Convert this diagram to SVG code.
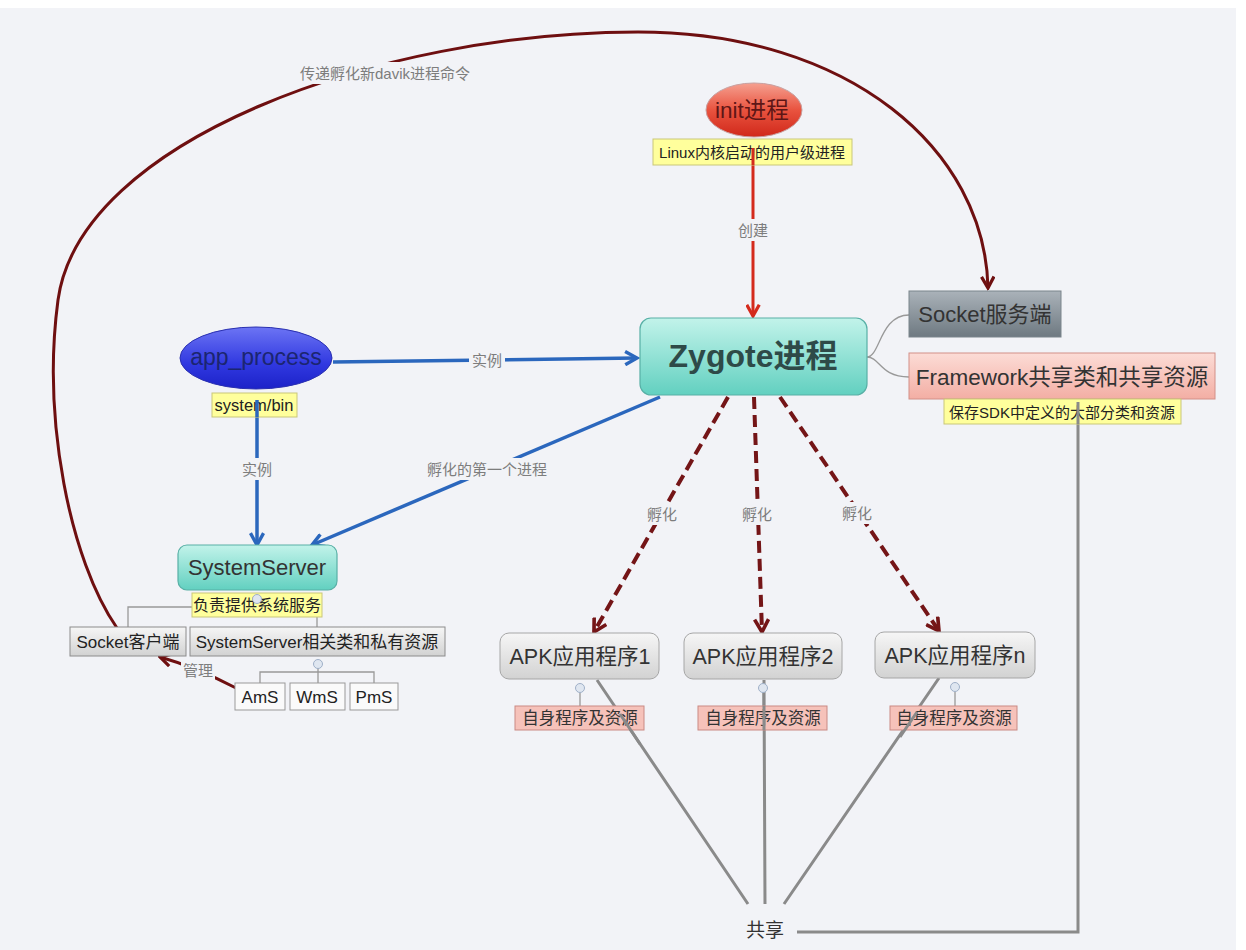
<svg xmlns="http://www.w3.org/2000/svg" width="1246" height="950" viewBox="0 0 1246 950">
<style>
text{font-family:"Liberation Sans","Noto Sans CJK SC",sans-serif;text-anchor:middle;dominant-baseline:central}
.lbl{font-size:15px;fill:#7d7d7d}
.note{font-size:15px;fill:#222}
.yel{fill:#ffff9c;stroke:#c9c77a;stroke-width:1}
.pink{fill:#f6c2ba;stroke:#c98a84;stroke-width:1}
.box{font-size:22px;fill:#333}
.sm{font-size:17px;fill:#222}
.tree{fill:none;stroke:#999;stroke-width:1.3}
.dr{fill:none;stroke:#6e0f10;stroke-width:3}
.dash{fill:none;stroke:#741517;stroke-width:4;stroke-dasharray:12 6}
.blue{fill:none;stroke:#2b67bd;stroke-width:3.5}
.gray{fill:none;stroke:#8a8a8a;stroke-width:3}
.knob{fill:#dfe6f0;stroke:#9fb0c8;stroke-width:1}
</style>
<defs>
<linearGradient id="gRed" x1="0" y1="0" x2="0" y2="1"><stop offset="0" stop-color="#f5a090"/><stop offset="0.5" stop-color="#e9533f"/><stop offset="1" stop-color="#d0281a"/></linearGradient>
<linearGradient id="gBlue" x1="0" y1="0" x2="0" y2="1"><stop offset="0" stop-color="#6c74f4"/><stop offset="0.6" stop-color="#3038e0"/><stop offset="1" stop-color="#1c22c8"/></linearGradient>
<linearGradient id="gTeal" x1="0" y1="0" x2="0" y2="1"><stop offset="0" stop-color="#c2f3ea"/><stop offset="1" stop-color="#62d0c0"/></linearGradient>
<linearGradient id="gSlate" x1="0" y1="0" x2="0" y2="1"><stop offset="0" stop-color="#aab2b9"/><stop offset="1" stop-color="#6e7981"/></linearGradient>
<linearGradient id="gPink" x1="0" y1="0" x2="0" y2="1"><stop offset="0" stop-color="#fcdcd6"/><stop offset="1" stop-color="#f3aea4"/></linearGradient>
<linearGradient id="gGray" x1="0" y1="0" x2="0" y2="1"><stop offset="0" stop-color="#f6f6f6"/><stop offset="1" stop-color="#d2d2d2"/></linearGradient>
<marker id="aDR" viewBox="0 0 12 12" refX="10" refY="6" markerWidth="5" markerHeight="5" orient="auto" markerUnits="strokeWidth"><path d="M1,1 L10,6 L1,11" fill="none" stroke="#6e0f10" stroke-width="2.6"/></marker>
<marker id="aDash" viewBox="0 0 12 12" refX="10" refY="6" markerWidth="4.2" markerHeight="4.2" orient="auto" markerUnits="strokeWidth"><path d="M1,1 L10,6 L1,11" fill="none" stroke="#741517" stroke-width="2.6"/></marker>
<marker id="aRed" viewBox="0 0 12 12" refX="10" refY="6" markerWidth="5" markerHeight="5" orient="auto" markerUnits="strokeWidth"><path d="M1,1 L10,6 L1,11" fill="none" stroke="#d42a1c" stroke-width="2.6"/></marker>
<marker id="aBlue" viewBox="0 0 12 12" refX="10" refY="6" markerWidth="4.5" markerHeight="4.5" orient="auto" markerUnits="strokeWidth"><path d="M1,1 L10,6 L1,11" fill="none" stroke="#2b67bd" stroke-width="2.6"/></marker>
<marker id="aGray" viewBox="0 0 12 12" refX="10" refY="6" markerWidth="5" markerHeight="5" orient="auto" markerUnits="strokeWidth"><path d="M1,1 L10,6 L1,11" fill="none" stroke="#8a8a8a" stroke-width="2.6"/></marker>
</defs>
<rect x="0" y="0" width="1246" height="950" fill="#ffffff"/>
<rect x="0" y="8" width="1236" height="942" fill="#f2f3f7"/>

<g id="connectors">
<path class="dr" d="M117,628 C70,560 42,420 58,300 C80,140 380,32 638,32 C850,32 985,150 988,288" marker-end="url(#aDR)"/>
<rect x="292" y="62" width="188" height="22" fill="#f2f3f7"/>
<text class="lbl" x="385" y="73">传递孵化新davik进程命令</text>

<path d="M753,165 L753,316" fill="none" stroke="#d42a1c" stroke-width="3" marker-end="url(#aRed)"/>
<rect x="736" y="219" width="34" height="22" fill="#f2f3f7"/>
<text class="lbl" x="753" y="230">创建</text>

<path class="tree" d="M867,357 C880,357 880,315 909,315 M867,357 C880,357 880,377 909,377"/>

<path class="blue" d="M333,362 L637,358" marker-end="url(#aBlue)"/>
<rect x="469" y="349" width="36" height="22" fill="#f2f3f7"/>
<text class="lbl" x="487" y="360">实例</text>
<path class="blue" d="M257,397 L257,545" marker-end="url(#aBlue)"/>
<rect x="240" y="458" width="34" height="22" fill="#f2f3f7"/>
<text class="lbl" x="257" y="469">实例</text>
<path class="blue" d="M660,397 L312,545" marker-end="url(#aBlue)"/>
<rect x="424" y="458" width="126" height="22" fill="#f2f3f7"/>
<text class="lbl" x="487" y="469">孵化的第一个进程</text>

<path class="dash" d="M728,397 L594,632" marker-end="url(#aDash)"/>
<path class="dash" d="M754,397 L762,632" marker-end="url(#aDash)"/>
<path class="dash" d="M780,397 L939,631" marker-end="url(#aDash)"/>
<rect x="645" y="503" width="34" height="22" fill="#f2f3f7"/>
<text class="lbl" x="662" y="514">孵化</text>
<rect x="740" y="503" width="34" height="22" fill="#f2f3f7"/>
<text class="lbl" x="757" y="514">孵化</text>
<rect x="840" y="502" width="34" height="22" fill="#f2f3f7"/>
<text class="lbl" x="857" y="513">孵化</text>

<path class="tree" d="M128,627 L128,607 L317,607 L317,627"/>
<path class="tree" d="M318,668 L318,672 M260,683 L260,672 L374,672 L374,683 M318,672 L318,683"/>
<path class="tree" d="M580,693 L580,706 M763,693 L763,706 M955,692 L955,706"/>

<path class="dr" d="M236,688 C205,672 185,664 160,657" marker-end="url(#aDR)"/>
<rect x="181" y="659" width="34" height="22" fill="#f2f3f7"/>
<text class="lbl" x="198" y="670">管理</text>

<path class="gray" d="M597,680 L748,904 M764,680 L765,904 M939,678 L784,904"/>
<path class="gray" d="M797,932 L1078,932 L1078,402" marker-end="url(#aGray)"/>
</g>

<g id="init">
<ellipse cx="754" cy="110" rx="48" ry="27" fill="url(#gRed)" stroke="#c8a0a0" stroke-width="1"/>
<text x="752" y="110" font-size="22.5" fill="#5e1616">init进程</text>
</g>
<g id="linux-note">
<rect class="yel" x="653" y="139" width="199" height="26"/>
<text class="note" x="752" y="152">Linux内核启动的用户级进程</text>
</g>
<path d="M753,148 L753,165" stroke="#d42a1c" stroke-width="3"/>

<g id="zygote">
<rect x="640" y="318" width="227" height="77" rx="11" fill="url(#gTeal)" stroke="#58b0a6" stroke-width="1.2"/>
<text x="753" y="356" font-size="32" font-weight="bold" fill="#2e4a48">Zygote进程</text>
</g>

<g id="socket-server">
<rect x="909" y="291" width="152" height="46" fill="url(#gSlate)" stroke="#7b858c" stroke-width="1"/>
<text class="box" x="985" y="314" fill="#1e2226">Socket服务端</text>
</g>

<g id="framework">
<rect x="909" y="353" width="306" height="46" fill="url(#gPink)" stroke="#d29088" stroke-width="1"/>
<text x="1062" y="377" font-size="22.5" fill="#333">Framework共享类和共享资源</text>
<rect class="yel" x="944" y="399" width="237" height="25"/>
<text class="note" x="1062" y="412">保存SDK中定义的大部分类和资源</text>
</g>
<path d="M1078,402 L1078,424" stroke="#8a8a8a" stroke-width="3"/>

<g id="app-process">
<ellipse cx="256" cy="358" rx="76" ry="31" fill="url(#gBlue)" stroke="#2a30b0" stroke-width="1"/>
<text x="256" y="357" font-size="23" fill="#1b2570">app_process</text>
<rect class="yel" x="212" y="393" width="85" height="24"/>
<text x="254" y="405" font-size="16.5" fill="#222">system/bin</text>
</g>
<path d="M257,400 L257,417" stroke="#2b67bd" stroke-width="3.5"/>

<g id="systemserver">
<rect x="178" y="545" width="159" height="45" rx="9" fill="url(#gTeal)" stroke="#58b0a6" stroke-width="1.2"/>
<text class="box" x="257" y="567" fill="#2e4a48">SystemServer</text>
<rect class="yel" x="192" y="593" width="130" height="24"/>
<text x="257" y="605" font-size="16" fill="#222">负责提供系统服务</text>
<circle class="knob" cx="257" cy="599" r="4.5"/>
</g>

<g id="socket-client">
<rect x="70" y="627" width="116" height="29" fill="url(#gGray)" stroke="#8c8c8c" stroke-width="1"/>
<text class="sm" x="128" y="642">Socket客户端</text>
</g>

<g id="ss-res">
<rect x="190" y="627" width="255" height="29" fill="url(#gGray)" stroke="#8c8c8c" stroke-width="1"/>
<text class="sm" x="317" y="642">SystemServer相关类和私有资源</text>
<circle class="knob" cx="318" cy="664" r="4.5"/>
</g>

<g id="ams"><rect x="235" y="683" width="50" height="27" fill="#fafafa" stroke="#999" stroke-width="1"/><text class="sm" x="260" y="697">AmS</text></g>
<g id="wms"><rect x="290" y="683" width="55" height="27" fill="#fafafa" stroke="#999" stroke-width="1"/><text class="sm" x="317" y="697">WmS</text></g>
<g id="pms"><rect x="350" y="683" width="48" height="27" fill="#fafafa" stroke="#999" stroke-width="1"/><text class="sm" x="374" y="697">PmS</text></g>

<g id="apk1">
<rect x="500" y="633" width="159" height="46" rx="9" fill="url(#gGray)" stroke="#a6a6a6" stroke-width="1"/>
<text x="580" y="657" font-size="21.5" fill="#333">APK应用程序1</text>
<circle class="knob" cx="580" cy="688" r="4.5"/>
<rect class="pink" x="515" y="706" width="129" height="24"/>
<text x="580" y="718" font-size="16.5" fill="#333">自身程序及资源</text>
</g>
<g id="apk2">
<rect x="684" y="633" width="158" height="46" rx="9" fill="url(#gGray)" stroke="#a6a6a6" stroke-width="1"/>
<text x="763" y="657" font-size="21.5" fill="#333">APK应用程序2</text>
<circle class="knob" cx="763" cy="688" r="4.5"/>
<rect class="pink" x="698" y="706" width="129" height="24"/>
<text x="763" y="718" font-size="16.5" fill="#333">自身程序及资源</text>
</g>
<g id="apkn">
<rect x="875" y="632" width="160" height="46" rx="9" fill="url(#gGray)" stroke="#a6a6a6" stroke-width="1"/>
<text x="955" y="656" font-size="21.5" fill="#333">APK应用程序n</text>
<circle class="knob" cx="955" cy="687" r="4.5"/>
<rect class="pink" x="890" y="706" width="127" height="24"/>
<text x="954" y="718" font-size="16.5" fill="#333">自身程序及资源</text>
</g>
<path class="gray" d="M620,714 L640,744 M764,706 L764,730 M917,712 L900,737"/>

<g id="share">
<text x="765" y="930" font-size="19" fill="#333">共享</text>
</g>
</svg>
